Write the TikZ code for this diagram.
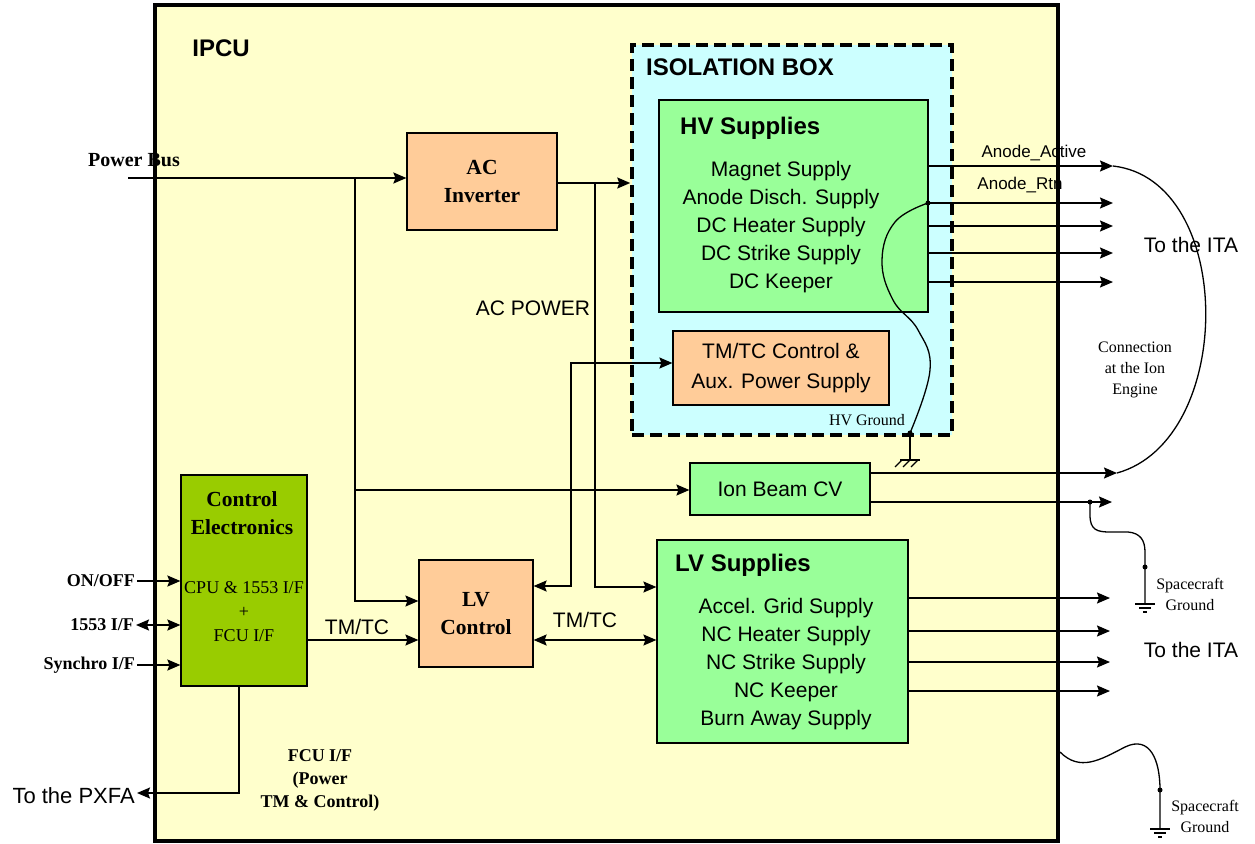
\documentclass[tikz,border=0pt]{standalone}
\usepackage{fontspec}
\setmainfont{Liberation Sans}
\newfontfamily\tnr{Liberation Serif}
\usetikzlibrary{arrows.meta, positioning, calc}

\definecolor{ipcuyellow}{HTML}{FFFFCC}
\definecolor{isocyan}{HTML}{CCFFFF}
\definecolor{supgreen}{HTML}{99FF99}
\definecolor{convorange}{HTML}{FFCC99}
\definecolor{ctrlgreen}{HTML}{99CC00}

\tikzset{
  blk/.style={draw, line width=1.2pt, inner sep=0pt, align=center},
  wire/.style={line width=1.6pt},
  curve/.style={line width=1.3pt},
  sfnt/.style={font=\fontsize{21}{28}\selectfont},
  sfsmall/.style={font=\fontsize{17}{20}\selectfont},
  sfbig/.style={font=\fontsize{24}{28}\selectfont\bfseries},
  rmbold/.style={font=\fontsize{21.5}{28}\selectfont\tnr\bfseries},
  rmtext/.style={font=\fontsize{18}{24}\selectfont\tnr},
  rmsmall/.style={font=\fontsize{16}{21}\selectfont\tnr},
  rmlab/.style={font=\fontsize{18}{23}\selectfont\tnr\bfseries},
}

\begin{document}
\begin{tikzpicture}[x=1pt, y=-1pt, >={Stealth[length=13pt,width=11pt,inset=2pt]}]

  \useasboundingbox (0,0) rectangle (1255,843);
  %\draw[help lines, step=50] (0,0) grid (1255,843);

  % boxes
  \node[blk, line width=4pt, fill=ipcuyellow, minimum width=903pt, minimum height=836pt] (ipcu) at (606.5,423) {};
  \node[blk, line width=3.5pt, dash pattern=on 12pt off 6pt, fill=isocyan, minimum width=320pt, minimum height=390pt] (iso) at (792,240) {};
  \node[blk, fill=supgreen, minimum width=269pt, minimum height=212pt] (hv) at (793.5,206) {};
  \node[blk, sfnt, fill=convorange, minimum width=216pt, minimum height=74pt, font=\fontsize{21}{30}\selectfont] (tmtc) at (781,368) {TM/TC Control \&\\Aux. Power Supply};
  \node[blk, rmbold, fill=convorange, minimum width=150pt, minimum height=97pt] (acinv) at (482,181.5) {AC\\Inverter};
  \node[blk, rmbold, fill=convorange, minimum width=114pt, minimum height=107pt] (lvctrl) at (476,613.5) {LV\\Control};
  \node[blk, fill=supgreen, minimum width=251pt, minimum height=203pt] (lvsup) at (782.5,641.5) {};
  \node[blk, sfnt, fill=supgreen, minimum width=180pt, minimum height=52pt] (ionbeam) at (780,489) {Ion Beam CV};
  \node[blk, fill=ctrlgreen, minimum width=126pt, minimum height=211pt] (ctrl) at (244,580.5) {};

  % texts in the boxes
  \node[sfbig] (ipcutitle) at (221,48) {IPCU};
  \node[sfbig, anchor=west, inner sep=0pt] (isotitle) at (646,67) {ISOLATION BOX};
  \node[sfbig, anchor=west, inner sep=0pt] (hvtitle) at (680,128) {HV Supplies};
  \node[sfnt, align=center] (hvlist) at (781,227) {Magnet Supply\\Anode Disch. Supply\\DC Heater Supply\\DC Strike Supply\\DC Keeper};
  \node[sfbig, anchor=west, inner sep=0pt] (lvtitle) at (675,565) {LV Supplies};
  \node[sfnt, align=center] (lvlist) at (786,664) {Accel. Grid Supply\\NC Heater Supply\\NC Strike Supply\\NC Keeper\\Burn Away Supply};
  \node[rmbold, align=center] (ctrltitle) at (242,513) {Control\\Electronics};
  \node[rmtext, align=center] (ctrlbody) at (244,612) {CPU \& 1553 I/F\\+\\FCU I/F};
  \node[rmsmall] (hvgndlab) at (867,420) {HV Ground};

  % power
  \node[rmbold, font=\fontsize{20}{28}\selectfont\tnr\bfseries] (pbus) at (134,160) {Power Bus};
  \coordinate (pbin) at (128,178);
  \coordinate (pbj) at (355,178);
  \coordinate (ibj) at (355,490);
  \coordinate (pbturn) at (355,601);
  \draw[wire,->] (pbin) -- (acinv.west |- pbin);
  \draw[wire,->] (pbj) -- (pbturn) -- (lvctrl.west |- pbturn);
  \draw[wire,->] (ibj) -- (ionbeam.west |- ibj);

  \coordinate (acj) at (595,183);
  \coordinate (acturn) at (595,587);
  \draw[wire,->] (acinv.east |- acj) -- (iso.west |- acj);
  \draw[wire,->] (acj) -- (acturn) -- (lvsup.west |- acturn);
  \node[sfnt] (acpow) at (533,308) {AC POWER};

  % TM/TC
  \coordinate (tmlow) at (571,586);
  \coordinate (tmhigh) at (571,363);
  \draw[wire,<->] (lvctrl.east |- tmlow) -- (tmlow) -- (tmhigh) -- (tmtc.west |- tmhigh);
  \coordinate (tmbus) at (0,640);
  \draw[wire,->] (ctrl.east |- tmbus) -- (lvctrl.west |- tmbus);
  \draw[wire,<->] (lvctrl.east |- tmbus) -- (lvsup.west |- tmbus);
  \node[sfnt] (tmlab1) at (357,627) {TM/TC};
  \node[sfnt] (tmlab2) at (585,620) {TM/TC};

  % control electronics inputs
  \node[rmlab, anchor=east, inner sep=2pt] (onoff) at (137,581) {ON/OFF};
  \node[rmlab, anchor=east, inner sep=2pt] (milbus) at (136,625) {1553 I/F};
  \node[rmlab, anchor=east, inner sep=2pt] (synchro) at (137,665) {Synchro I/F};
  \draw[wire,->] (onoff.east) -- (ctrl.west |- onoff.east);
  \draw[wire,<->] (milbus.east) -- (ctrl.west |- milbus.east);
  \draw[wire,->] (synchro.east) -- (ctrl.west |- synchro.east);

  \node[sfnt, anchor=east, inner sep=2pt, font=\fontsize{22}{28}\selectfont] (pxfa) at (137,796) {To the PXFA};
  \coordinate (fcuturn) at (239,793);
  \draw[wire,->] (ctrl.south -| fcuturn) -- (fcuturn) -- (pxfa.east |- fcuturn);
  \node[rmlab, align=center] (fculab) at (320,780) {FCU I/F\\(Power\\TM \& Control)};

  % HV outputs
  \foreach \yy [count=\i] in {166,203,226,253,282}{
    \coordinate (hvout\i) at (1113,\yy);
    \draw[wire,->] (hv.east |- hvout\i) -- (hvout\i);
  }
  \node[sfsmall] (anact) at (1034,153) {Anode\_Active};
  \node[sfsmall] (anrtn) at (1020,185) {Anode\_Rtn};
  \node[sfnt] (ita1) at (1191,245) {To the ITA};

  % ion beam outputs
  \coordinate (ibout1) at (1117,473);
  \coordinate (ibout2) at (1112,502);
  \draw[wire,->] (ionbeam.east |- ibout1) -- (ibout1);
  \draw[wire,->] (ionbeam.east |- ibout2) -- (ibout2);
  \draw[curve] (hvout1) .. controls (1236,180) and (1236,440) .. (ibout1);
  \node[rmsmall, align=center] (ionconn) at (1135,370) {Connection\\at the Ion\\Engine};

  % LV outputs
  \foreach \yy [count=\i] in {598,631,662,691}{
    \coordinate (lvout\i) at (1110,\yy);
    \draw[wire,->] (lvsup.east |- lvout\i) -- (lvout\i);
  }
  \node[sfnt] (ita2) at (1191,650) {To the ITA};

  % HV ground
  \coordinate (hvj) at (928,203);
  \coordinate (hvgnd) at (910,433);
  \coordinate (hvgndb) at (910,460);
  \draw[curve] plot[smooth, tension=0.7] coordinates {(928,203) (895,222) (882,260) (893,300) (918,330) (930,370) (910,433)};
  \fill (hvj) circle (2.5);
  \fill (hvgnd) circle (2.5);
  \draw[curve] (hvgnd) -- (hvgndb);
  \draw[curve] ($(hvgndb)+(-10,0)$) -- ($(hvgndb)+(10,0)$);
  \foreach \dx in {-8,0,8} \draw[curve] ($(hvgndb)+(\dx,0)$) -- ++(-7,7);

  % spacecraft grounds
  \coordinate (scj1) at (1090,502);
  \coordinate (scg1) at (1145,604);
  \draw[curve] (scj1) -- (1090,515) .. controls (1090,530) and (1097,532) .. (1110,532) -- (1128,532) .. controls (1140,533) and (1145,540) .. (1145,552) -- (scg1);
  \fill (scj1) circle (2.5);
  \fill (1145,567) circle (2.5);
  \draw[curve] ($(scg1)+(-10,0)$) -- ($(scg1)+(10,0)$) ($(scg1)+(-6,4)$) -- ($(scg1)+(6,4)$) ($(scg1)+(-2,8)$) -- ($(scg1)+(2,8)$);
  \node[rmsmall, align=center] (scglab1) at (1190,594) {Spacecraft\\Ground};

  \coordinate (scj2) at (ipcu.east |- 0,752);
  \coordinate (scg2) at (1160,829);
  \draw[curve] (scj2) .. controls (1080,772) and (1100,760) .. (1125,747) .. controls (1150,735) and (1160,760) .. (1160,790) -- (scg2);
  \fill (1160,790) circle (2.5);
  \draw[curve] ($(scg2)+(-10,0)$) -- ($(scg2)+(10,0)$) ($(scg2)+(-6,4)$) -- ($(scg2)+(6,4)$) ($(scg2)+(-2,8)$) -- ($(scg2)+(2,8)$);
  \node[rmsmall, align=center] (scglab2) at (1205,816) {Spacecraft\\Ground};

\end{tikzpicture}
\end{document}
